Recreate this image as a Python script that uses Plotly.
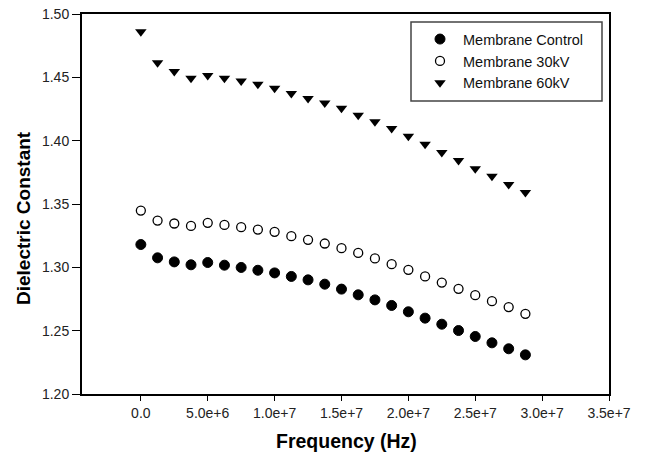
import plotly.graph_objects as go

freq = [i * 1.25e6 for i in range(24)]
control = [1.318, 1.3075, 1.3043, 1.302, 1.3038, 1.3017, 1.2999, 1.2977, 1.2956, 1.2928,
           1.2901, 1.2867, 1.2828, 1.2783, 1.2743, 1.2699, 1.2649, 1.2599, 1.2551, 1.2501,
           1.2454, 1.2404, 1.2357, 1.2309]
kv30 = [1.3448, 1.3369, 1.3346, 1.3327, 1.3351, 1.3335, 1.3317, 1.3298, 1.3280, 1.3246,
        1.3217, 1.3188, 1.3151, 1.3114, 1.3070, 1.3025, 1.2980, 1.2928, 1.2880, 1.2830,
        1.2780, 1.2733, 1.2686, 1.2633]
kv60 = [1.486, 1.4615, 1.4546, 1.4493, 1.4514, 1.4493, 1.4471, 1.4445, 1.4413, 1.4373,
        1.4333, 1.4298, 1.4256, 1.4200, 1.4149, 1.4096, 1.4035, 1.3971, 1.3907, 1.3843,
        1.3779, 1.3720, 1.3654, 1.3590]

x_tickvals = [0, 5e6, 1e7, 1.5e7, 2e7, 2.5e7, 3e7, 3.5e7]
x_ticktext = ["0.0", "5.0e+6", "1.0e+7", "1.5e+7", "2.0e+7", "2.5e+7", "3.0e+7", "3.5e+7"]
y_tickvals = [1.20, 1.25, 1.30, 1.35, 1.40, 1.45, 1.50]

fig = go.Figure()
fig.add_trace(go.Scatter(x=freq, y=control, mode="markers", name="Membrane Control",
                         marker=dict(symbol="circle", size=10, color="black",
                                     line=dict(color="black", width=1))))
fig.add_trace(go.Scatter(x=freq, y=kv30, mode="markers", name="Membrane 30kV",
                         marker=dict(symbol="circle-open", size=9, color="black",
                                     line=dict(color="black", width=1.3))))
fig.add_trace(go.Scatter(x=freq, y=kv60, mode="markers", name="Membrane 60kV",
                         marker=dict(symbol="triangle-down", size=10, color="black",
                                     line=dict(width=0))))

font = "Liberation Sans, Arial, sans-serif"
fig.update_layout(
    width=645, height=455,
    margin=dict(l=82, r=36, t=14, b=61, autoexpand=False),
    paper_bgcolor="white", plot_bgcolor="white",
    font=dict(family=font, size=14, color="black"),
    showlegend=True,
    legend=dict(x=(417 - 82) / 527, y=0.976, xanchor="left", yanchor="top",
                bgcolor="rgba(0,0,0,0)", borderwidth=0, itemwidth=36,
                font=dict(size=14.5, family=font, color="#111"), tracegroupgap=0),
    shapes=[dict(type="rect", xref="paper", yref="paper",
                 x0=(411 - 82) / 527, x1=(602 - 82) / 527,
                 y0=(394 - 101) / 380, y1=(394 - 22) / 380,
                 line=dict(color="#444", width=1.5), fillcolor="rgba(0,0,0,0)")],
    annotations=[
        dict(text="<b>Dielectric Constant</b>", xref="paper", yref="paper",
             x=(23 - 82) / 527, y=(394 - 218) / 380, textangle=-90,
             showarrow=False, xanchor="center", yanchor="middle",
             font=dict(size=19, family=font, color="black")),
        dict(text="<b>Frequency (Hz)</b>", xref="paper", yref="paper",
             x=(346 - 82) / 527, y=(394 - 441) / 380,
             showarrow=False, xanchor="center", yanchor="middle",
             font=dict(size=19.5, family=font, color="black")),
    ],
    xaxis=dict(range=[-4.4e6, 3.5e7], tickvals=x_tickvals, ticktext=x_ticktext,
               ticks="outside", ticklen=5, tickwidth=1, tickcolor="black",
               showline=True, linewidth=2, linecolor="black", mirror=True,
               showgrid=False, zeroline=False,
               tickfont=dict(size=14, color="#222")),
    yaxis=dict(range=[1.20, 1.50], tickvals=y_tickvals, tickformat=".2f",
               ticks="outside", ticklen=8, tickwidth=1, tickcolor="black",
               showline=True, linewidth=2, linecolor="black", mirror=True,
               showgrid=False, zeroline=False,
               tickfont=dict(size=14, color="#222")),
)

fig.write_html("out.html")
